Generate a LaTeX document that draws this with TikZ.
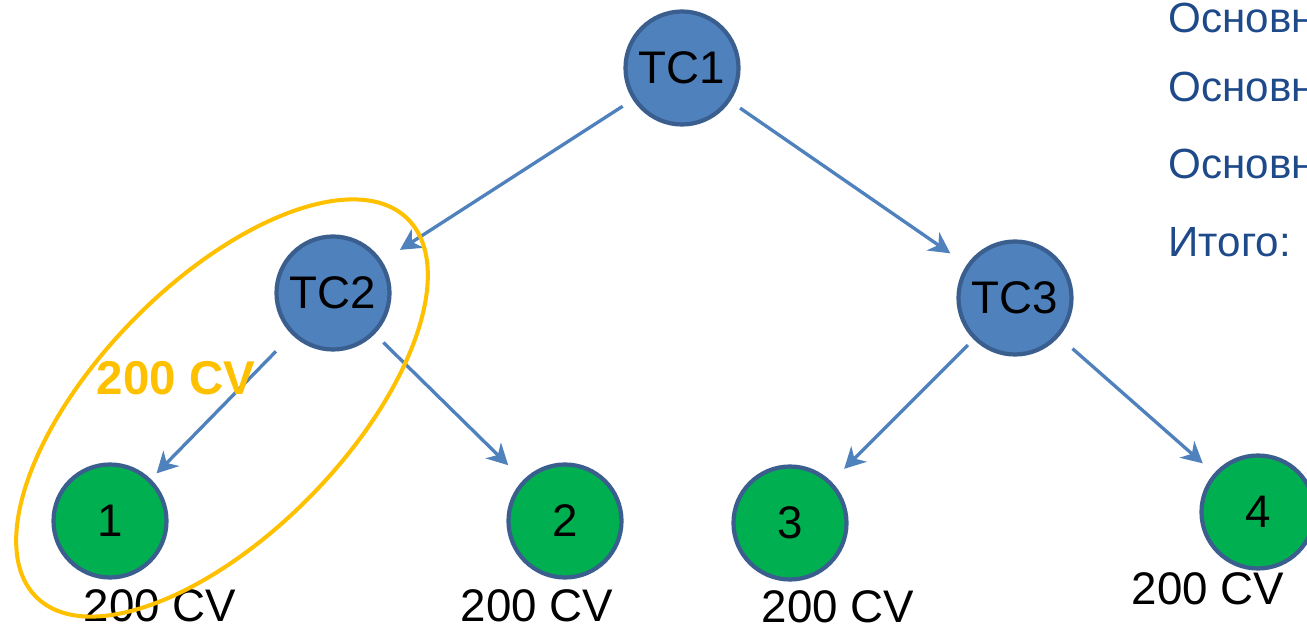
\documentclass[tikz,border=0pt]{standalone}
\usepackage{fontspec}
\setmainfont{Liberation Sans}
\usetikzlibrary{arrows.meta, positioning}
\definecolor{cblue}{HTML}{4F81BD}
\definecolor{cedge}{HTML}{3A5F8E}
\definecolor{cgreen}{HTML}{00B050}
\definecolor{corange}{HTML}{FFC000}
\definecolor{cnavy}{HTML}{1F4A8A}
\tikzset{
  every picture/.style={line width=1.9pt},
  tc/.style={circle, draw=cedge, line width=2.4pt, fill=#1, minimum size=2.26cm, inner sep=0pt, font=\fontsize{26}{30}\selectfont},
  tc/.default=cblue,
  arrow/.style={-{Stealth[length=0.42cm, width=0.44cm, inset=0.13cm]}, draw=cblue},
  cv/.style={font=\fontsize{26}{30}\selectfont},
  note/.style={anchor=west, text=cnavy, font=\fontsize{24}{28}\selectfont},
}

\begin{document}
\begin{tikzpicture}
  \useasboundingbox (0,0) rectangle (26.14,12.58);
  \clip (0,0) rectangle (26.14,12.58);
  % tree of TC nodes
  \node[tc] (tc1) at (13.64,11.22) {TC1};
  \node[tc] (tc2) at (6.66,6.72) {TC2};
  \node[tc] (tc3) at (20.30,6.62) {TC3};
  \foreach \n/\x/\y in {1/2.20/2.16, 2/11.30/2.16, 3/15.80/2.12, 4/25.16/2.34}
    \node[tc=cgreen] (n\n) at (\x,\y) {\n};
  % arrows
  \foreach \a/\b/\s/\e in {tc1/tc2/0.24/0.42, tc1/tc3/0.24/0.40, tc2/n1/0.46/0.16, tc2/n2/0.24/0.42, tc3/n3/0.16/0.36, tc3/n4/0.36/0.30}
    \draw[arrow, shorten <=\s cm, shorten >=\e cm] (\a) -- (\b);
  % leaf values
  \foreach \n/\x/\y in {1/3.20/0.46, 2/10.74/0.46, 3/16.76/0.44, 4/24.16/0.80}
    \node[cv] (v\n) at (\x,\y) {200 CV};
  % group of TC2 and leaf 1
  \draw[corange, line width=2.3pt] (4.44,4.42) ellipse[x radius=5.3cm, y radius=2.5cm, rotate=45.6];
  \node[cv, text=corange, font=\fontsize{27}{31}\selectfont\bfseries] (g) at (3.52,5.02) {200 CV};
  % notes on the right
  \node[note] (l1) at (23.22,12.22) {Основн};
  \node[note] (l2) at (23.22,10.84) {Основн};
  \node[note] (l3) at (23.22,9.30) {Основн};
  \node[note] (l4) at (23.22,7.74) {Итого:};
\end{tikzpicture}
\end{document}
